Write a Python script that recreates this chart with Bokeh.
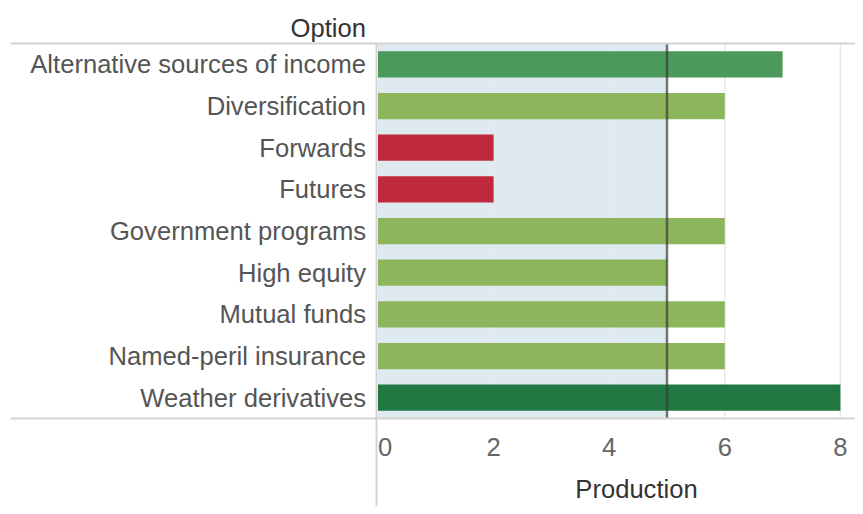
from bokeh.plotting import figure
from bokeh.models import Range1d, ColumnDataSource
from bokeh.embed import file_html
from bokeh.resources import INLINE
from bokeh.core.properties import value

# ---------------- data ----------------
options = ["Alternative sources of income", "Diversification", "Forwards", "Futures",
           "Government programs", "High equity", "Mutual funds",
           "Named-peril insurance", "Weather derivatives"]
production = [7, 6, 2, 2, 6, 5, 6, 6, 8]
reference_value = 5
x_ticks = [0, 2, 4, 6, 8]
x_tick_labels = ["0", "2", "4", "6", "8"]
header_text = "Option"
x_title = "Production"

# ---------------- styles ----------------
COLOR_BY_VALUE = {2: "#c0283c", 5: "#8db65c", 6: "#8db65c", 7: "#4c9a5b", 8: "#217842"}
FONT = value("Liberation Sans")
FS = value("25.6px")

# ---------------- layout (pixels of the picture) ----------------
W, H = 855, 506
X0_PX, X_PER_UNIT = 377.5, 57.8
Y0_PX, ROW_PX = 43.0, 375.0 / 9


def dx(px):
    return (px - X0_PX) / X_PER_UNIT


def dy(py):
    return (py - Y0_PX) / ROW_PX


n = len(options)
centers = [i + 0.5 for i in range(n)]

p = figure(width=W, height=H,
           x_range=Range1d(dx(0), dx(W)), y_range=Range1d(dy(H), dy(0)),
           toolbar_location=None, output_backend="svg", min_border=0,
           x_axis_location=None, y_axis_location=None,
           outline_line_color=None, background_fill_color="white",
           border_fill_color="white")
p.grid.visible = False
for r in p.renderers:
    pass

# shaded band up to the reference value
p.quad(left=[0], right=[reference_value], bottom=[0], top=[n],
       fill_color="#dee9f0", line_color=None)

# vertical grid lines
grid_x = [t for t in x_ticks if t != 0]
p.segment(x0=grid_x, x1=grid_x, y0=[0] * len(grid_x), y1=[n] * len(grid_x),
          line_color="#e9e9e9", line_width=1.5)

# bars
src = ColumnDataSource(dict(y=centers, right=production, option=options,
                            color=[COLOR_BY_VALUE[v] for v in production]))
p.hbar(y="y", left=0, right="right", height=0.63, fill_color="color",
       line_color=None, source=src)

# reference line
p.segment(x0=[reference_value], x1=[reference_value], y0=[0], y1=[n],
          line_color="#3a3a3a", line_alpha=0.7, line_width=2.5)

# frame lines
p.segment(x0=[dx(10), dx(10)], x1=[dx(W), dx(W)], y0=[0, n], y1=[0, n],
          line_color="#d3d3d3", line_width=2)
p.segment(x0=[dx(376)], x1=[dx(376)], y0=[0], y1=[dy(H)],
          line_color="#d3d3d3", line_width=2)

# row labels
p.text(x=0, y="y", text="option", source=src, x_offset=-12,
       text_align="right", text_baseline="middle", text_font=FONT,
       text_font_size=FS, text_color="#555555")

# header
p.text(x=[0], y=[dy(27.5)], text=[header_text], x_offset=-12,
       text_align="right", text_baseline="middle", text_font=FONT,
       text_font_size=FS, text_color="#333333")

# x tick labels
tick_src = ColumnDataSource(dict(x=x_ticks, y=[dy(446)] * len(x_ticks), t=x_tick_labels,
                                 align=["left" if t == 0 else "center" for t in x_ticks]))
p.text(x="x", y="y", text="t", source=tick_src, text_align="align",
       text_baseline="middle", text_font=FONT, text_font_size=FS,
       text_color="#666666")

# x title
p.text(x=[dx(636)], y=[dy(488)], text=[x_title], text_align="center",
       text_baseline="middle", text_font=FONT, text_font_size=FS,
       text_color="#333333")

open("out.html", "w").write(file_html(p, INLINE))
